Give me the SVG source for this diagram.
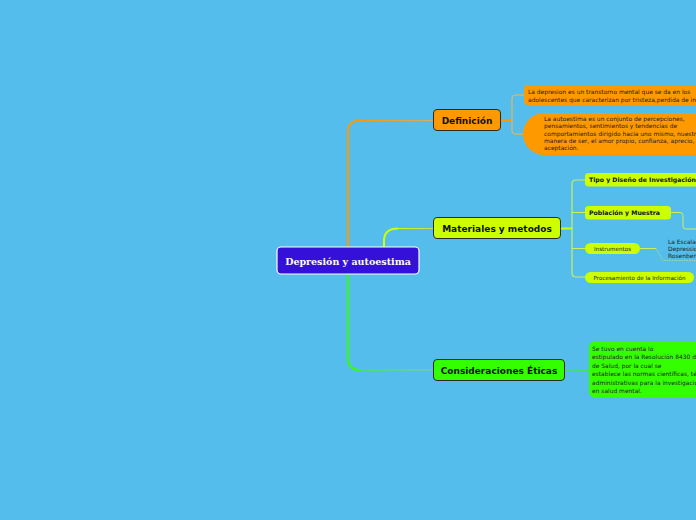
<svg xmlns="http://www.w3.org/2000/svg" width="696" height="520" viewBox="0 0 696 520">
<defs>
<style>
.lbl{font-family:"DejaVu Sans",Verdana,sans-serif;font-weight:bold;font-size:9px;fill:#111;text-anchor:middle;dominant-baseline:central}
.sm{font-family:"DejaVu Sans",Verdana,sans-serif;font-size:5.95px;fill:#222}
.tiny{font-family:"DejaVu Sans",Verdana,sans-serif;font-size:5.6px;fill:#222;text-anchor:middle}
.smb{font-family:"DejaVu Sans",Verdana,sans-serif;font-size:6.2px;font-weight:bold;fill:#111}
.box{stroke:#2a2a2a;stroke-width:1}
.c{fill:none}
</style>
<linearGradient id="go" gradientUnits="userSpaceOnUse" x1="359" y1="0" x2="433" y2="0"><stop offset="0" stop-color="#FF9900"/><stop offset="1" stop-color="#C8B078"/></linearGradient>
<linearGradient id="gy" gradientUnits="userSpaceOnUse" x1="397" y1="0" x2="433" y2="0"><stop offset="0" stop-color="#CCFF00"/><stop offset="1" stop-color="#B8E070"/></linearGradient>
<linearGradient id="gg" gradientUnits="userSpaceOnUse" x1="359" y1="0" x2="433" y2="0"><stop offset="0" stop-color="#33FF00"/><stop offset="1" stop-color="#80D890"/></linearGradient>
</defs>
<rect width="696" height="520" fill="#55BDEB"/>
<g id="connectors">
<path class="c" d="M348 247 V132 Q348 120.5 360 120.5" stroke="#FF9900" stroke-width="2"/>
<path class="c" d="M359 120.5 H433" stroke="url(#go)" stroke-width="1"/>
<path class="c" d="M384 247 V241 Q384 228.5 398 228.5" stroke="#CCFF00" stroke-width="2"/>
<path class="c" d="M397 228.5 H433" stroke="url(#gy)" stroke-width="1"/>
<path class="c" d="M348 274 V358 Q348 370 360 370" stroke="#33FF00" stroke-width="2"/>
<path class="c" d="M359 370 H433" stroke="url(#gg)" stroke-width="1"/>
<path class="c" d="M500 120.5 H512" stroke="#FF9900" stroke-width="1.5"/>
<path class="c" d="M524 95 H515 Q512 95 512 98 V131 Q512 134 515 134 H528" stroke="#FFB347" stroke-width="1"/>
<path class="c" d="M560 228.5 H572" stroke="#CCFF00" stroke-width="2"/>
<path class="c" d="M585 180 H576 Q572 180 572 184 V273 Q572 277 576 277 H585 M572 212.5 H585 M572 248.5 H585" stroke="#C8F060" stroke-width="1.2"/>
<path class="c" d="M671 212.5 H680 Q683 212.5 683 215.5 V226 Q683 229 686 229 H696" stroke="#C8F060" stroke-width="1"/>
<path class="c" d="M640 248.5 H656" stroke="#C8F060" stroke-width="1"/>
<path class="c" d="M656 248.5 L663 260.5 H696" stroke="#A8D8A0" stroke-width="1" stroke-dasharray="1.5 1"/>
<path class="c" d="M564 370 H589" stroke="#33FF00" stroke-width="1"/>
</g>
<g id="central">
<rect x="277" y="247" width="142" height="27" rx="4" fill="#3410D8" stroke="#ffffff" stroke-width="1.2"/>
<text x="348" y="261" font-family="'DejaVu Serif',Georgia,serif" font-weight="bold" font-size="9.5" fill="#ffffff" text-anchor="middle" dominant-baseline="central">Depresión y autoestima</text>
</g>
<g id="definicion">
<rect class="box" x="433.5" y="109.5" width="67" height="21" rx="3.5" fill="#FF9900"/>
<text class="lbl" x="467" y="120.5">Definición</text>
</g>
<g id="def-depresion">
<rect x="524" y="85" width="190" height="20" rx="4" fill="#FF9900"/>
<text class="sm" x="528" y="93.5">La depresion es un transtorno mental que se da en los</text>
<text class="sm" x="528" y="101.5">adolescentes que caracterizan por tristeza,perdida de interés</text>
</g>
<g id="def-autoestima">
<path d="M544 113 H710 V155 H544 A21 21 0 0 1 544 113 Z" fill="#FF9900"/>
<text class="sm" x="544" y="121">La autoestima es un conjunto de percepciones,</text>
<text class="sm" x="544" y="128.3">pensamientos, sentimientos y tendencias de</text>
<text class="sm" x="544" y="135.6">comportamientos dirigido hacia uno mismo, nuestra</text>
<text class="sm" x="544" y="142.9">manera de ser, el amor propio, confianza, aprecio,</text>
<text class="sm" x="544" y="150.2">aceptación.</text>
</g>
<g id="materiales">
<rect class="box" x="433.5" y="217.5" width="127" height="21" rx="3.5" fill="#CCFF00"/>
<text class="lbl" x="497" y="228.5">Materiales y  metodos</text>
</g>
<g id="tipo">
<rect x="585" y="173" width="130" height="13.5" rx="3.5" fill="#CCFF00"/>
<text class="smb" x="589" y="182">Tipo y Diseño de Investigación</text>
</g>
<g id="poblacion">
<rect x="585" y="206" width="86" height="13.5" rx="3.5" fill="#CCFF00"/>
<text class="smb" x="589" y="215">Población y Muestra</text>
</g>
<g id="instrumentos">
<rect x="585" y="243" width="55" height="11" rx="5.5" fill="#CCFF00"/>
<text class="tiny" x="612.5" y="250.5">Instrumentos</text>
</g>
<g id="escala">
<text class="sm" x="668" y="244" fill="#102050">La Escala de</text>
<text class="sm" x="668" y="251" fill="#102050">Depression</text>
<text class="sm" x="668" y="258" fill="#102050">Rosenberg</text>
</g>
<g id="procesamiento">
<rect x="585" y="272" width="109" height="11" rx="5.5" fill="#CCFF00"/>
<text class="tiny" x="639.5" y="279.5">Procesamiento de la Información</text>
</g>
<g id="consideraciones">
<rect class="box" x="433.5" y="359.5" width="131" height="21" rx="3.5" fill="#33FF00"/>
<text class="lbl" x="499" y="370.5">Consideraciones Éticas</text>
</g>
<g id="cons-texto">
<rect x="589" y="342" width="130" height="55" rx="5" fill="#33FF00"/>
<text class="sm" x="592" y="351">Se tuvo en cuenta lo</text>
<text class="sm" x="592" y="359.4">estipulado en la Resolución 8430 del Ministerio</text>
<text class="sm" x="592" y="367.8">de Salud, por la cual se</text>
<text class="sm" x="592" y="376.2">establece las normas científicas, técnicas y</text>
<text class="sm" x="592" y="384.6">administrativas para la investigación</text>
<text class="sm" x="592" y="393">en salud mental.</text>
</g>
</svg>
